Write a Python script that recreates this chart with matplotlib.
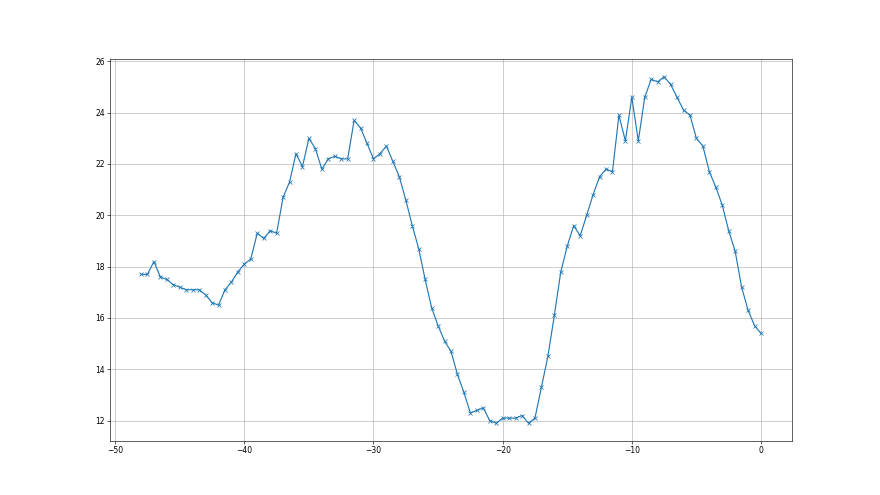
import numpy as np
import matplotlib
matplotlib.use("Agg")
import matplotlib.pyplot as plt

# x positions: every half unit from -48 to 0
x_values = np.arange(-48, 0.25, 0.5)

y_values = [
    17.7, 17.7, 18.2, 17.6, 17.5, 17.3, 17.2, 17.1, 17.1, 17.1,
    16.9, 16.6, 16.5, 17.1, 17.4, 17.8, 18.1, 18.3, 19.3, 19.1,
    19.4, 19.3, 20.7, 21.3, 22.4, 21.9, 23.0, 22.6, 21.8, 22.2,
    22.3, 22.2, 22.2, 23.7, 23.4, 22.8, 22.2, 22.4, 22.7, 22.1,
    21.5, 20.6, 19.6, 18.7, 17.5, 16.4, 15.7, 15.1, 14.7, 13.8,
    13.1, 12.3, 12.4, 12.5, 12.0, 11.9, 12.1, 12.1, 12.1, 12.2,
    11.9, 12.1, 13.3, 14.5, 16.1, 17.8, 18.8, 19.6, 19.2, 20.0,
    20.8, 21.5, 21.8, 21.7, 23.9, 22.9, 24.6, 22.9, 24.6, 25.3,
    25.2, 25.4, 25.1, 24.6, 24.1, 23.9, 23.0, 22.7, 21.7, 21.1,
    20.4, 19.4, 18.6, 17.2, 16.3, 15.7, 15.4,
]

fig, ax = plt.subplots(figsize=(16, 9), dpi=55)
ax.plot(x_values, y_values, marker="x")
ax.grid(True)
fig.savefig("out.png")
